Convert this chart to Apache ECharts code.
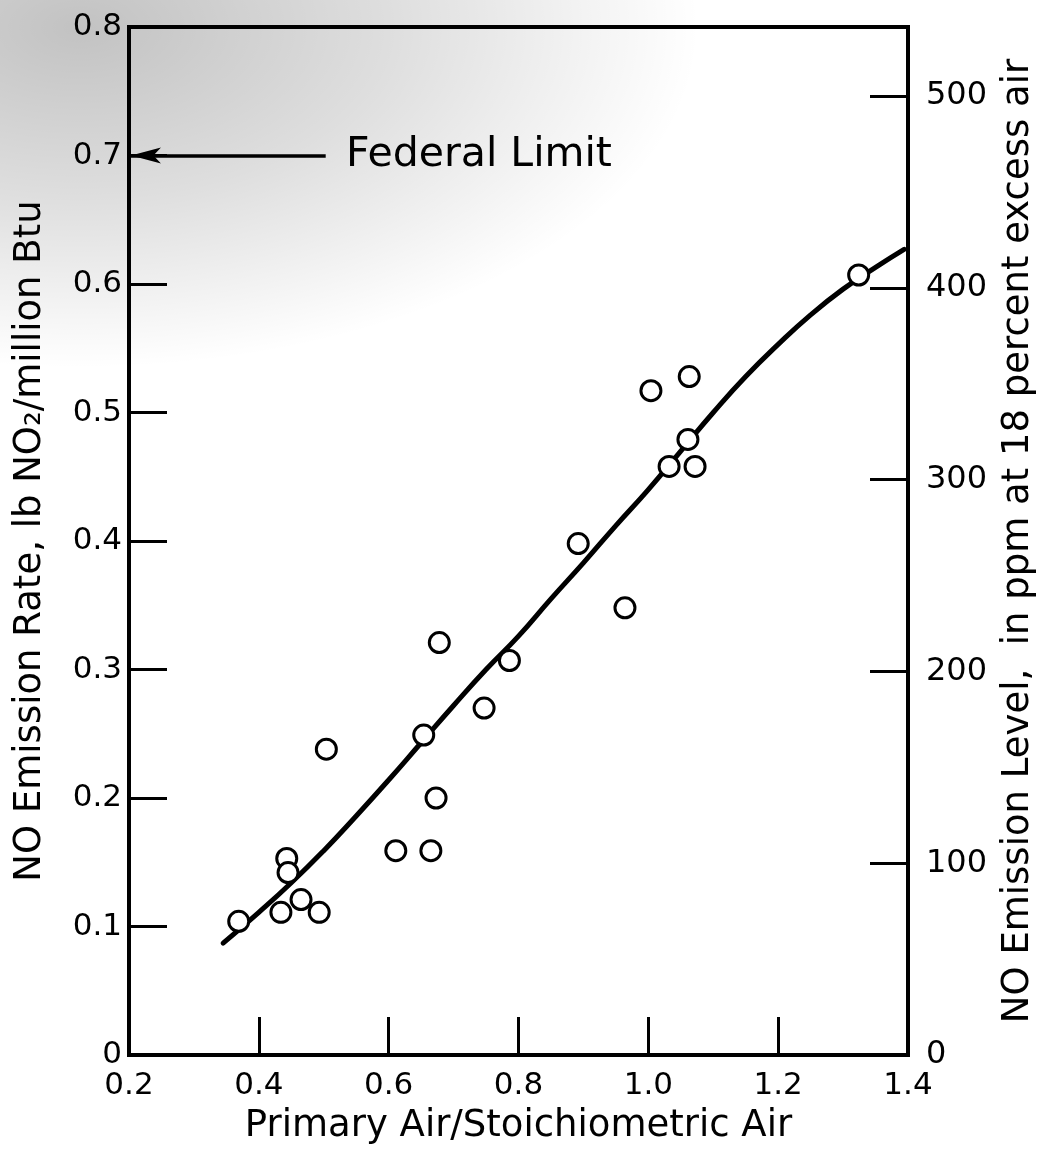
<!DOCTYPE html>
<html>
<head>
<meta charset="utf-8">
<script src="https://cdn.jsdelivr.net/npm/echarts@6/dist/echarts.min.js"></script>
<style>
  html, body { margin: 0; padding: 0; background: #fff; }
  #chart { width: 1049px; height: 1155px; }
</style>
</head>
<body>
<div id="chart"></div>
<script>
// Measured NO emission rates (lb NO2 / million Btu) vs. primary/stoichiometric air ratio
const airRatio = [0.369, 0.434, 0.443, 0.445, 0.465, 0.493, 0.504, 0.611, 0.654, 0.665, 0.673,
                  0.678, 0.747, 0.786, 0.892, 0.964, 1.004, 1.032, 1.061, 1.063, 1.072, 1.324];
const emissionRate = [0.104, 0.111, 0.153, 0.142, 0.121, 0.111, 0.238, 0.159, 0.249, 0.159, 0.200,
                      0.321, 0.270, 0.307, 0.398, 0.348, 0.517, 0.458, 0.479, 0.528, 0.458, 0.607];

// Fitted trend curve
const curveX = [0.345, 0.40, 0.45, 0.50, 0.55, 0.60, 0.65, 0.70, 0.75, 0.80, 0.85, 0.90, 0.95,
                1.00, 1.05, 1.10, 1.15, 1.20, 1.25, 1.30, 1.35, 1.394];
const curveY = [0.087, 0.111, 0.134, 0.159, 0.186, 0.214, 0.243, 0.272, 0.300, 0.326, 0.355, 0.383, 0.412,
                0.440, 0.470, 0.500, 0.528, 0.553, 0.576, 0.596, 0.613, 0.627];

// Regulatory limit
const federalLimit = 0.7;
const federalLimitText = 'Federal Limit';

// Axis tick values
const xTicks = [0.2, 0.4, 0.6, 0.8, 1.0, 1.2, 1.4];
const rateTicks = [0, 0.1, 0.2, 0.3, 0.4, 0.5, 0.6, 0.7, 0.8];
const ppmTicks = [0, 100, 200, 300, 400, 500];
const ppmMax = 536; // ppm equivalent of 0.8 lb/million Btu

const FONT = 'DejaVu Sans';
const black = '#000';

const chart = echarts.init(document.getElementById('chart'), null, { renderer: 'canvas' });

const scatterData = airRatio.map((x, i) => [x, emissionRate[i]]);
const curveData = curveX.map((x, i) => [x, curveY[i]]);

chart.setOption({
  backgroundColor: '#fff',
  animation: false,
  graphic: [{
    // grey shading in the upper-left corner of the sheet
    type: 'rect',
    z: -10,
    silent: true,
    x: 0, y: 0,
    scaleY: 0.55,
    shape: { x: 0, y: 0, width: 1000, height: 1000 },
    style: {
      fill: {
        type: 'radial', x: 0.08, y: 0.05, r: 0.62,
        colorStops: [
          { offset: 0, color: 'rgba(0,0,0,0.24)' },
          { offset: 0.5, color: 'rgba(0,0,0,0.13)' },
          { offset: 1, color: 'rgba(0,0,0,0)' }
        ]
      }
    }
  }],
  grid: {
    left: 129, right: 141, top: 27, bottom: 100,
    show: true, borderColor: black, borderWidth: 4, backgroundColor: 'transparent'
  },
  xAxis: {
    type: 'value', min: 0.2, max: 1.4, interval: 0.2,
    name: 'Primary Air/Stoichiometric Air',
    nameLocation: 'middle', nameGap: 53,
    nameTextStyle: { fontFamily: FONT, fontSize: 37, color: black },
    axisLine: { show: true, lineStyle: { color: black, width: 4 } },
    axisTick: {
      show: true, inside: true, length: 38, lineStyle: { color: black, width: 3 },
      customValues: xTicks.slice(1, -1)
    },
    axisLabel: {
      fontFamily: FONT, fontSize: 31, color: black, margin: 15,
      customValues: xTicks,
      formatter: v => v.toFixed(1)
    },
    splitLine: { show: false }
  },
  yAxis: [{
    type: 'value', min: 0, max: 0.8, interval: 0.1,
    name: 'NO Emission Rate, lb NO\u2082/million Btu',
    nameLocation: 'middle', nameGap: 80, nameRotate: 90,
    nameTextStyle: { fontFamily: FONT, fontSize: 37, color: black },
    axisLine: { show: true, lineStyle: { color: black, width: 4 } },
    axisTick: {
      show: true, inside: true, length: 38, lineStyle: { color: black, width: 3 },
      customValues: rateTicks.slice(1, -1)
    },
    axisLabel: {
      fontFamily: FONT, fontSize: 31, color: black, margin: 7,
      customValues: rateTicks,
      formatter: v => (v === 0 ? '0' : v.toFixed(1))
    },
    splitLine: { show: false }
  }, {
    type: 'value', min: 0, max: ppmMax, position: 'right',
    name: 'NO Emission Level,  in ppm at 18 percent excess air',
    nameLocation: 'middle', nameGap: 92, nameRotate: 90,
    nameTextStyle: { fontFamily: FONT, fontSize: 37, color: black },
    axisLine: { show: true, lineStyle: { color: black, width: 3 } },
    axisTick: {
      show: true, inside: true, length: 38, lineStyle: { color: black, width: 3 },
      customValues: ppmTicks.slice(1)
    },
    axisLabel: {
      fontFamily: FONT, fontSize: 32, color: black, margin: 18,
      customValues: ppmTicks,
      formatter: v => String(v)
    },
    splitLine: { show: false }
  }],
  series: [{
    name: 'Trend',
    type: 'line',
    data: curveData,
    smooth: 0.5,
    showSymbol: false,
    lineStyle: { color: black, width: 5, cap: 'round' },
    z: 2
  }, {
    name: 'Measured',
    type: 'scatter',
    data: scatterData,
    symbol: 'circle',
    symbolSize: 20,
    itemStyle: { color: '#fff', borderColor: black, borderWidth: 3, opacity: 1 },
    z: 3
  }, {
    name: federalLimitText,
    type: 'scatter',
    data: [[0.519, federalLimit]],
    symbolSize: 0,
    itemStyle: { opacity: 1 },
    label: {
      show: true, position: 'right', distance: 10,
      formatter: federalLimitText,
      fontFamily: FONT, fontSize: 41, color: black, opacity: 1
    },
    markLine: {
      silent: true,
      symbol: ['none', 'arrow'],
      symbolSize: [12, 30],
      label: { show: false },
      lineStyle: { color: black, width: 3.5, type: 'solid', opacity: 1 },
      data: [[{ coord: [0.503, federalLimit] }, { coord: [0.203, federalLimit] }]]
    },
    z: 4
  }]
});
</script>
</body>
</html>
